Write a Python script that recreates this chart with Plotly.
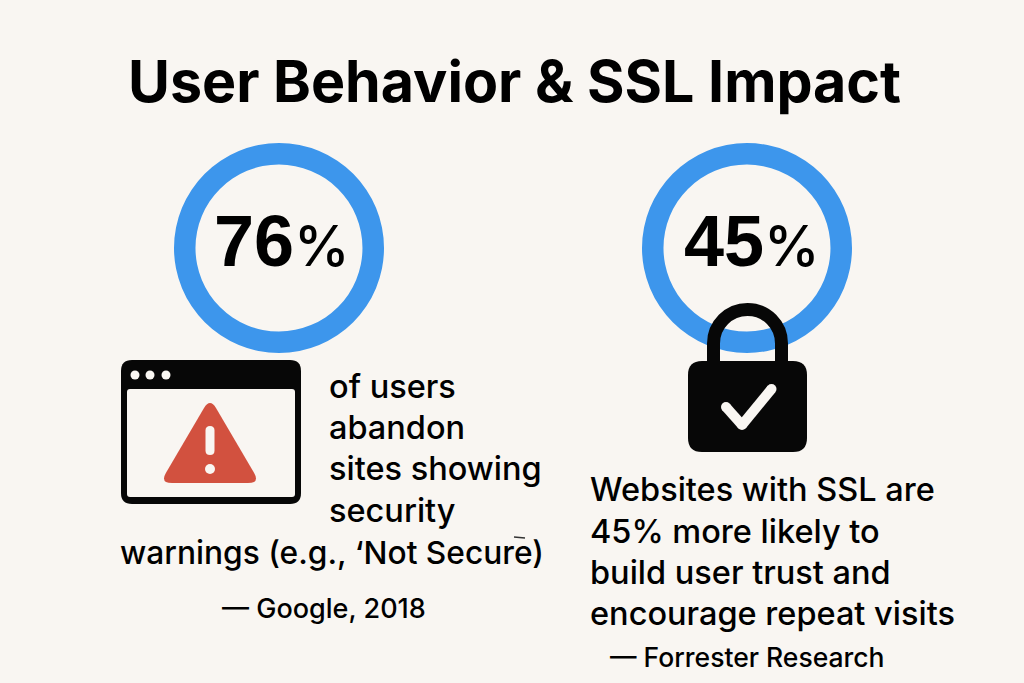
import plotly.graph_objects as go

# Text and values
titulo = "User Behavior & SSL Impact"
porcentajes = ["76", "45"]
centros_x = [279, 747]
lineas_izq = ["of users", "abandon", "sites showing", "security"]
linea_ancha = "warnings (e.g., ‘Not Secure)"
fuente_izq = "— Google, 2018"
lineas_der = ["Websites with SSL are", "45% more likely to",
              "build user trust and", "encourage repeat visits"]
fuente_der = "— Forrester Research"

FONDO = "#F9F6F2"
AZUL = "#3D96EC"
NEGRO = "#070707"
ROJO = "#D2513F"
W, H = 1024, 683

fig = go.Figure()
fig.add_trace(go.Scatter(x=[0, W], y=[0, H], mode="markers",
                         marker=dict(opacity=0), hoverinfo="skip", showlegend=False))

# Rings
for cx in centros_x:
    fig.add_trace(go.Pie(
        values=[100], hole=0.795, sort=False, textinfo="none", hoverinfo="skip",
        marker=dict(colors=[AZUL], line=dict(width=0)), showlegend=False,
        domain=dict(x=[(cx - 105) / W, (cx + 105) / W], y=[(H - 353) / H, (H - 143) / H]),
    ))


def texto(x, y, s, size, anchor="left", weight=500, family="Inter"):
    fig.add_annotation(x=x, y=y, text=s, showarrow=False, xanchor=anchor, yanchor="middle",
                       align=anchor, xref="x", yref="y",
                       font=dict(family=family, size=size, color="#000000", weight=weight))


def forma(path, fill=None, line=None, width=0):
    fig.add_shape(type="path", path=path, xref="x", yref="y", layer="above",
                  fillcolor=fill, line=dict(color=line, width=width))


def caja(x0, y0, x1, y1, r):
    return (f"M{x0 + r},{y0} L{x1 - r},{y0} Q{x1},{y0} {x1},{y0 + r} L{x1},{y1 - r} "
            f"Q{x1},{y1} {x1 - r},{y1} L{x0 + r},{y1} Q{x0},{y1} {x0},{y1 - r} "
            f"L{x0},{y0 + r} Q{x0},{y0} {x0 + r},{y0} Z")


def punto(cx, cy, r, fill):
    fig.add_shape(type="circle", x0=cx - r, x1=cx + r, y0=cy - r, y1=cy + r, xref="x", yref="y",
                  layer="above", fillcolor=fill, line=dict(width=0))


# Browser window icon
forma(caja(121, 360, 301, 504, 11), fill=NEGRO)
forma(caja(127, 389, 295, 497, 3), fill=FONDO)
for dx in [135, 150, 166]:
    punto(dx, 375, 4.5, FONDO)
forma("M204,408 Q210,398 216,408 L254,472.7 Q260,483 248,483 L172,483 Q160,483 166,472.7 Z", fill=ROJO)
forma(caja(205.5, 426, 214.5, 455, 4.5), fill=FONDO)
punto(210, 469, 5, FONDO)

# Padlock icon
forma("M713.5,361 L713.5,343.5 C713.5,324.7 728.7,309.5 747.5,309.5 "
      "C766.3,309.5 781.5,324.7 781.5,343.5 L781.5,361", line=NEGRO, width=13)
forma(caja(688, 361, 807, 452, 14), fill=NEGRO)
forma("M726,407 L742,425", line=FONDO, width=10)
forma("M742,425 L771.5,389", line=FONDO, width=10)
for px, py in [(726, 407), (742, 425), (771.5, 389)]:
    punto(px, py, 5, FONDO)

# Texts
texto(514, 81, f"<b>{titulo}</b>", 57.3, "center")
for cx, p, dx in zip(centros_x, porcentajes, [2.5, 4.5]):
    texto(cx + dx, 241,
          f'<b>{p}</b><span style="font-size:56px;font-family:Inter;font-weight:500">%</span>',
          72, "center", family="Liberation Sans")
for y, s in zip([386, 427, 468, 510], lineas_izq):
    texto(327, y, s, 32.5)
texto(118, 552, linea_ancha, 31.7)
fig.add_shape(type="line", x0=514, x1=525, y0=537, y1=538, xref="x", yref="y", layer="above",
              line=dict(color="#333333", width=1.5))
texto(220, 608, fuente_izq, 27)
for y, s in zip([489, 531, 572, 613], lineas_der):
    texto(588, y, s, 32.5)
texto(608, 657, fuente_der, 26.5)

fig.update_layout(
    width=W, height=H, margin=dict(l=0, r=0, t=0, b=0),
    paper_bgcolor=FONDO, plot_bgcolor=FONDO,
    xaxis=dict(range=[0, W], visible=False, fixedrange=True),
    yaxis=dict(range=[H, 0], visible=False, fixedrange=True),
    showlegend=False,
)

fig.write_html("out.html", config=dict(displayModeBar=False),
               post_script="document.body.style.margin='0';document.body.style.background='#F9F6F2';")
